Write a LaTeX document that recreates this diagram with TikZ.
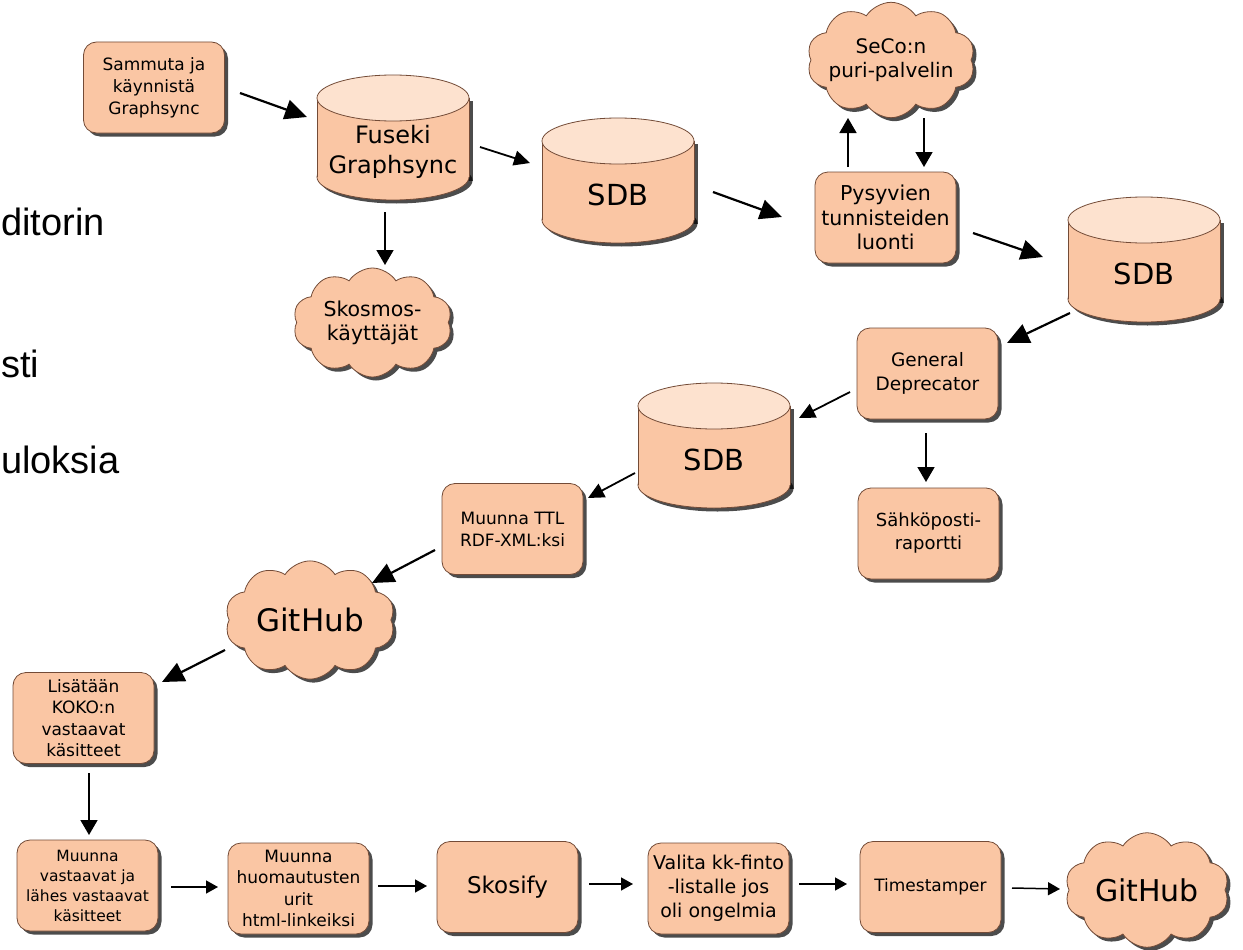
\documentclass[tikz,border=0pt]{standalone}
\usepackage{fontspec}
\setmainfont{DejaVu Sans}
\newfontfamily\slidefont{Liberation Sans}
\usetikzlibrary{shapes.symbols,shadows,arrows.meta}
\definecolor{peach}{RGB}{250,198,164}
\definecolor{peachtop}{RGB}{253,226,207}
\definecolor{brd}{RGB}{115,75,55}
\newcommand\fsz[2]{\fontsize{#1}{#2}\selectfont}
% #1 name, #2 left x, #3 top y, #4 font, #5 text
\newcommand\dbcyl[5]{%
  \fill[black,opacity=0.7] (#2+3.5,#3+26) rectangle (#2+155.5,#3+105.5);
  \fill[black,opacity=0.7] (#2+79.5,#3+105.5) ellipse [x radius=76, y radius=23];
  \filldraw[draw=brd,line width=0.8pt,fill=peach] (#2+76,#3+102) ellipse [x radius=76, y radius=23];
  \fill[peach] (#2,#3+23) rectangle (#2+152,#3+102);
  \draw[brd,line width=0.8pt] (#2,#3+23) -- (#2,#3+102) (#2+152,#3+23) -- (#2+152,#3+102);
  \filldraw[draw=brd,line width=0.8pt,fill=peachtop] (#2+76,#3+23) ellipse [x radius=76, y radius=23];
  \node[cyltext, font=#4] (#1) at (#2+76,#3+77) {#5};
}
\tikzset{
  shd/.style={drop shadow={shadow xshift=3.5pt,shadow yshift=-3.5pt,fill=black,opacity=0.7}},
  box/.style={shd, draw=brd, line width=0.8pt, fill=peach, rounded corners=13pt,
    minimum width=141pt, minimum height=91pt, align=center, inner sep=2pt},
  cld/.style={shd, cloud, cloud puffs=10, cloud puff arc=115, aspect=1.6, draw=brd,
    line width=0.8pt, fill=peach, align=center, inner sep=1pt},
  cyltext/.style={minimum width=152pt, minimum height=96pt, inner sep=0pt, align=center},
  arrbig/.style={line width=2.2pt, -{Triangle[length=22pt,width=20pt]}},
  arrmid/.style={line width=1.8pt, -{Triangle[length=16pt,width=15pt]}},
  arrv/.style={line width=1.6pt, -{Triangle[length=15pt,width=17pt]}},
  arrsm/.style={line width=1.5pt, -{Triangle[length=12pt,width=13pt]}},
  slide/.style={font=\slidefont\fsz{38}{44}, anchor=base west, inner sep=0pt}
}
\begin{document}
\begin{tikzpicture}[x=1pt,y=-1pt]
\useasboundingbox (0,0) rectangle (1243,950);
\fill[white] (0,0) rectangle (1243,950);
\clip (0,0) rectangle (1243,950);

% slide text fragments at the left edge
\node[slide] (t1) at (1,235) {ditorin};
\node[slide] (t2) at (1,377) {sti};
\node[slide] (t3) at (1,473) {uloksia};

% boxes
\node[box, font=\fsz{17}{22}] (sam) at (154,87.5) {Sammuta ja\\käynnistä\\Graphsync};
\node[box, font=\fsz{20.5}{24.5}] (pys) at (885.5,217.5) {Pysyvien\\tunnisteiden\\luonti};
\node[box, font=\fsz{18.5}{23.5}] (gen) at (927.5,373.5) {General\\Deprecator};
\node[box, font=\fsz{18}{23}] (sah) at (928.5,533.5) {Sähköposti-\\raportti};
\node[box, font=\fsz{17}{22}] (ttl) at (512.5,529) {Muunna TTL\\RDF-XML:ksi};
\node[box, font=\fsz{17}{21.5}] (lis) at (83.5,718) {Lisätään\\KOKO:n\\vastaavat\\käsitteet};
\node[box, font=\fsz{15.5}{20}] (mv) at (87.5,885.5) {Muunna\\vastaavat ja\\lähes vastaavat\\käsitteet};
\node[box, font=\fsz{17}{21.5}] (mh) at (298.5,888.5) {Muunna\\huomautusten\\urit\\html-linkeiksi};
\node[box, font=\fsz{23}{28}] (skb) at (507.5,887) {Skosify};
\node[box, font=\fsz{19}{24}] (val) at (718.5,888.5) {Valita kk-finto\\-listalle jos\\oli ongelmia};
\node[box, font=\fsz{17}{22}] (tim) at (930.5,887) {Timestamper};

% cylinders
\dbcyl{fus}{317}{75}{\fsz{24}{30}}{Fuseki\\Graphsync}
\dbcyl{sdb1}{542}{118}{\fsz{29}{34}}{SDB}
\dbcyl{sdb2}{1068}{197}{\fsz{29}{34}}{SDB}
\dbcyl{sdb3}{638}{383}{\fsz{29}{34}}{SDB}

% clouds
\node[cld, font=\fsz{20.5}{24}, minimum width=159pt, minimum height=109pt] (skc) at (372.5,322.5) {Skosmos-\\käyttäjät};
\node[cld, font=\fsz{20}{24}, inner sep=-9pt, minimum width=168pt, minimum height=112pt] (seco) at (891,60) {SeCo:n\\puri-palvelin};
\node[cld, font=\fsz{31}{36}, inner ysep=-4pt, minimum width=170pt, minimum height=104pt] (gh1) at (310,620) {GitHub};
\node[cld, font=\fsz{30}{36}, minimum width=164pt, minimum height=112pt] (gh2) at (1147,890) {GitHub};

% connectors
\draw[arrbig] ([shift={(86,5.5)}]sam.center) -- ([shift={(-86,-35)}]fus.center);
\draw[arrmid] ([shift={(87,-5)}]fus.center) -- ([shift={(-88,-32)}]sdb1.center);
\draw[arrv] ([shift={(-8,60)}]fus.center) -- ([shift={(12.5,-57.5)}]skc.center);
\draw[arrbig] ([shift={(95,-3)}]sdb1.center) -- ([shift={(-103.5,-0.5)}]pys.center);
\draw[arrv] ([shift={(-37.5,-50.5)}]pys.center) -- ([shift={(-43,58)}]seco.center);
\draw[arrv] ([shift={(33,58)}]seco.center) -- ([shift={(38.5,-50.5)}]pys.center);
\draw[arrbig] ([shift={(87.5,15.5)}]pys.center) -- ([shift={(-101,-17)}]sdb2.center);
\draw[arrbig] ([shift={(-74,39)}]sdb2.center) -- ([shift={(79.5,-30.5)}]gen.center);
\draw[arrmid] ([shift={(-77.5,18.5)}]gen.center) -- ([shift={(85,-42)}]sdb3.center);
\draw[arrv] ([shift={(-1.5,59.5)}]gen.center) -- ([shift={(-2.5,-51.5)}]sah.center);
\draw[arrmid] ([shift={(-79,13)}]sdb3.center) -- ([shift={(75.5,-31)}]ttl.center);
\draw[arrbig] ([shift={(-77.5,21)}]ttl.center) -- ([shift={(62,-37)}]gh1.center);
\draw[arrbig] ([shift={(-85,30)}]gh1.center) -- ([shift={(78.5,-36)}]lis.center);
\draw[arrv] ([shift={(5.5,55)}]lis.center) -- ([shift={(1.5,-50.5)}]mv.center);
\draw[arrsm] ([shift={(83.5,1.5)}]mv.center) -- ([shift={(-80.5,-1.5)}]mh.center);
\draw[arrsm] ([shift={(79.5,-2.5)}]mh.center) -- ([shift={(-80.5,-1)}]skb.center);
\draw[arrsm] ([shift={(81.5,-3)}]skb.center) -- ([shift={(-85.5,-4.5)}]val.center);
\draw[arrsm] ([shift={(80.5,-4.5)}]val.center) -- ([shift={(-83.5,-3)}]tim.center);
\draw[arrsm] ([shift={(81.5,1)}]tim.center) -- ([shift={(-87,-1)}]gh2.center);
\end{tikzpicture}
\end{document}
